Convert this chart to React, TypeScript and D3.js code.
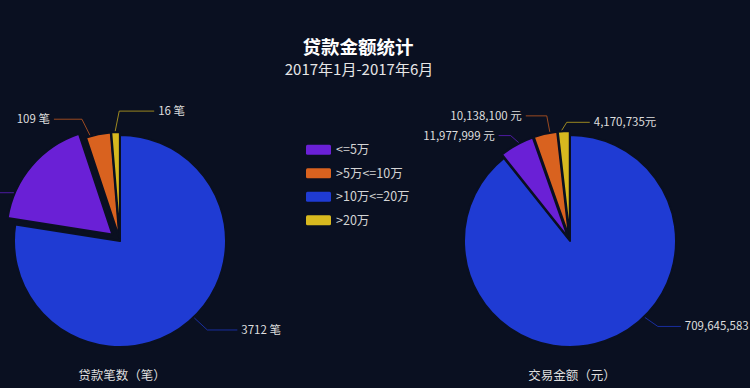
import React, { useEffect } from "react";
import * as d3 from "d3";

// legend order
const categories = ["<=5万", ">5万<=10万", ">10万<=20万", ">20万"];
const colors = ["#6a20d6", "#d9621f", "#1f3bd3", "#d8b91f"];
// loan counts (purple label is outside the picture)
const counts: (number | null)[] = [null, 109, 3712, 16];
// transaction amounts (元)
const amounts = [11977999, 10138100, 709645583, 4170735];
const amountSuffix = [" 元", " 元", " 元", "元"];
// slice shares (%)
const countShares = [17.4, 3.8, 77.5, 1.3];
const amountShares = [5.3, 3.6, 89.3, 1.8];
// clockwise drawing order from 12 o'clock
const drawOrder = [2, 0, 1, 3];

const W = 750;
const H = 388;
const BG = "#0a1021";
const FONT = "'Noto Sans CJK SC', 'Noto Sans', sans-serif";

type LabelCfg = { ang: number; dx: number; dy: number; len: number; side: 1 | -1 };

interface PieProps {
  cx: number;
  cy: number;
  r: number;
  shares: number[];
  offsets: number[];
  labels: (string | null)[];
  labelCfg: LabelCfg[];
  name: string;
  nameY: number;
}

function Pie({ cx, cy, r, shares, offsets, labels, labelCfg, name, nameY }: PieProps) {
  const pieGen = d3
    .pie<number>()
    .sort(null)
    .value((i) => shares[i]);
  const arcs = pieGen(drawOrder);
  const arcGen = d3.arc<d3.PieArcDatum<number>>().innerRadius(0).outerRadius(r);
  return (
    <g transform={`translate(${cx},${cy})`}>
      {arcs.map((a) => {
        const i = a.data;
        const mid = (a.startAngle + a.endAngle) / 2;
        const off = offsets[i];
        const tx = Math.sin(mid) * off;
        const ty = -Math.cos(mid) * off;
        return (
          <path
            key={i}
            d={arcGen(a) || ""}
            transform={`translate(${tx},${ty})`}
            fill={colors[i]}
            stroke={BG}
            strokeWidth={2}
            strokeLinejoin="round"
          />
        );
      })}
      {arcs.map((a) => {
        const i = a.data;
        const cfg = labelCfg[i];
        const mid = (a.startAngle + a.endAngle) / 2;
        const off = offsets[i];
        const ang = (cfg.ang * Math.PI) / 180;
        const sx = Math.sin(ang) * (r + 1) + Math.sin(mid) * off;
        const sy = -Math.cos(ang) * (r + 1) - Math.cos(mid) * off;
        const ex = sx + cfg.dx;
        const ey = sy + cfg.dy;
        const fx = ex + cfg.side * cfg.len;
        return (
          <g key={"l" + i}>
            <polyline
              points={`${sx},${sy} ${ex},${ey} ${fx},${ey}`}
              fill="none"
              stroke={colors[i]}
              strokeOpacity={0.7}
              strokeWidth={1}
            />
            {labels[i] !== null && (
              <text
                x={fx + cfg.side * 4}
                y={ey}
                dy="0.35em"
                textAnchor={cfg.side > 0 ? "start" : "end"}
                fill="#dedede"
                fontSize={11.5}
                fontFamily={FONT}
              >
                {labels[i]}
              </text>
            )}
          </g>
        );
      })}
      <text
        x={2}
        y={nameY - cy}
        dy="0.35em"
        textAnchor="middle"
        fill="#dedede"
        fontSize={12.5}
        fontFamily={FONT}
      >
        {name}
      </text>
    </g>
  );
}

export default function App() {
  useEffect(() => {
    document.body.style.margin = "0";
    document.body.style.background = BG;
  }, []);

  const fmt = d3.format(",");
  const countLabels = counts.map((c) => (c === null ? null : `${c} 笔`));
  const amountLabels = amounts.map((v, i) => fmt(v) + amountSuffix[i]);

  const leftCfg: LabelCfg[] = [
    { ang: 293, dx: -2, dy: 0, len: 40, side: -1 },
    { ang: 344, dx: -8, dy: -16, len: 28, side: -1 },
    { ang: 136, dx: 13, dy: 12, len: 30, side: 1 },
    { ang: 357.5, dx: 4, dy: -20, len: 35, side: 1 },
  ];
  const rightCfg: LabelCfg[] = [
    { ang: 332.5, dx: -8, dy: -7, len: 12, side: -1 },
    { ang: 349.6, dx: -3, dy: -16, len: 21, side: -1 },
    { ang: 135.6, dx: 13, dy: 9, len: 23, side: 1 },
    { ang: 355.7, dx: 5, dy: -8, len: 23, side: 1 },
  ];

  const legendY = d3.scaleBand<number>().domain(d3.range(categories.length)).range([138, 232]);

  return (
    <svg width={W} height={H} style={{ display: "block" }}>
      <rect width={W} height={H} fill={BG} />
      <text x={358} y={48} dy="0.35em" textAnchor="middle" fill="#ffffff" fontSize={18.5} fontWeight="bold" fontFamily={FONT}>
        贷款金额统计
      </text>
      <text x={359} y={70} dy="0.35em" textAnchor="middle" fill="#e6e6e6" fontSize={15} fontFamily={FONT}>
        2017年1月-2017年6月
      </text>
      <Pie
        cx={120}
        cy={241}
        r={106}
        shares={countShares}
        offsets={[10, 3, 0, 3]}
        labels={countLabels}
        labelCfg={leftCfg}
        name="贷款笔数（笔）"
        nameY={376}
      />
      <Pie
        cx={570}
        cy={241}
        r={106}
        shares={amountShares}
        offsets={[4, 4, 0, 4]}
        labels={amountLabels}
        labelCfg={rightCfg}
        name="交易金额（元）"
        nameY={376}
      />
      {categories.map((c, i) => {
        const y = (legendY(i) || 0) + legendY.bandwidth() / 2;
        return (
          <g key={c}>
            <rect x={306} y={y - 5} width={25} height={10} rx={1.5} fill={colors[i]} />
            <text x={336} y={y} dy="0.35em" fill="#d4d4d4" fontSize={12.5} fontFamily={FONT}>
              {c}
            </text>
          </g>
        );
      })}
    </svg>
  );
}
